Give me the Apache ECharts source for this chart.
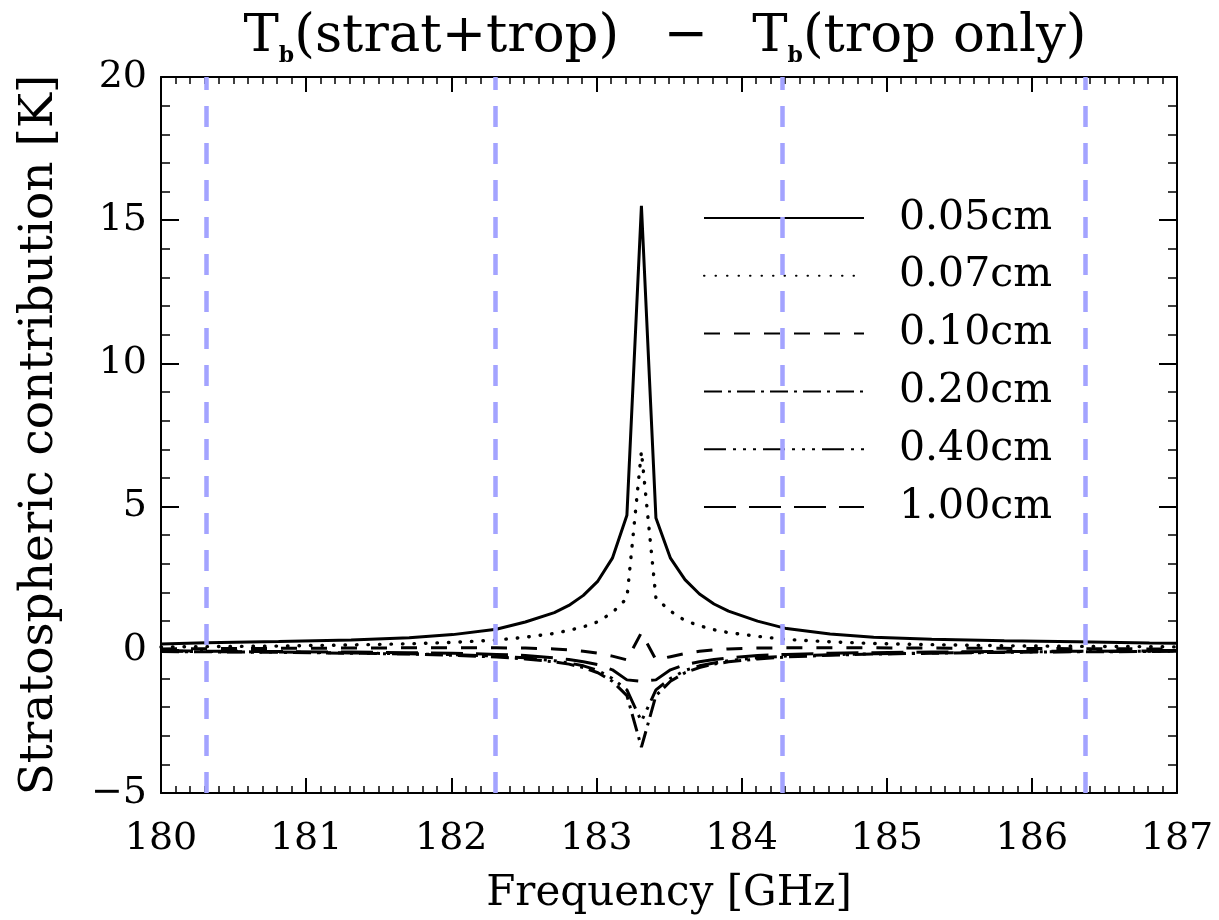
<!DOCTYPE html>
<html>
<head>
<meta charset="utf-8">
<script src="https://cdn.jsdelivr.net/npm/echarts@6/dist/echarts.min.js"></script>
<style>
html,body{margin:0;padding:0;background:#fff;}
#chart{width:1219px;height:920px;}
</style>
</head>
<body>
<div id="chart"></div>
<script>
// Frequencies [GHz]
const freq = [180.00, 180.31, 180.81, 181.31, 181.71, 182.01, 182.31, 182.51, 182.71, 182.81, 182.91, 183.01, 183.11, 183.21, 183.31, 183.41, 183.51, 183.61, 183.71, 183.81, 183.91, 184.11, 184.31, 184.61, 184.91, 185.31, 185.81, 186.31, 186.81, 187.00];
// Stratospheric contribution [K] for each total water column
const s005 = [0.20,0.25,0.29,0.34,0.42,0.53,0.72,0.97,1.30,1.55,1.90,2.40,3.20,4.70,15.50,4.60,3.20,2.45,1.95,1.60,1.35,1.00,0.74,0.55,0.44,0.37,0.32,0.28,0.24,0.23];
const s007 = [0.10,0.11,0.13,0.17,0.21,0.26,0.34,0.44,0.57,0.68,0.80,0.98,1.30,1.80,6.93,1.80,1.35,1.02,0.84,0.70,0.60,0.47,0.36,0.28,0.22,0.18,0.14,0.12,0.11,0.10];
const s010 = [0.03,0.04,0.05,0.06,0.07,0.07,0.07,0.06,0.03,0.00,-0.05,-0.12,-0.22,-0.35,0.60,-0.35,-0.24,-0.13,-0.05,0.00,0.03,0.06,0.07,0.07,0.07,0.06,0.05,0.04,0.03,0.03];
const s020 = [-0.06,-0.07,-0.09,-0.12,-0.15,-0.19,-0.25,-0.32,-0.42,-0.50,-0.62,-0.80,-1.10,-1.60,-3.40,-1.60,-1.10,-0.80,-0.62,-0.50,-0.42,-0.32,-0.25,-0.19,-0.15,-0.12,-0.09,-0.07,-0.06,-0.05];
const s040 = [-0.05,-0.06,-0.08,-0.11,-0.14,-0.17,-0.22,-0.28,-0.38,-0.46,-0.56,-0.72,-1.00,-1.40,-2.50,-1.40,-1.00,-0.72,-0.56,-0.46,-0.38,-0.28,-0.22,-0.17,-0.14,-0.11,-0.08,-0.06,-0.05,-0.05];
const s100 = [-0.03,-0.05,-0.06,-0.08,-0.10,-0.12,-0.16,-0.20,-0.28,-0.34,-0.42,-0.52,-0.70,-1.05,-1.10,-1.05,-0.70,-0.52,-0.42,-0.34,-0.28,-0.20,-0.16,-0.12,-0.10,-0.08,-0.06,-0.05,-0.04,-0.04];
const seriesNames = ['0.05cm','0.07cm','0.10cm','0.20cm','0.40cm','1.00cm'];
const seriesValues = [s005, s007, s010, s020, s040, s100];
// Vertical reference lines (channel edges) [GHz]
const channelEdges = [180.31, 182.30, 184.28, 186.37];
// Tick settings
const xMin = 180, xMax = 187, xStep = 1;
const yMin = -5, yMax = 20, yStep = 5;

const FONT = 'DejaVu Serif';
const lineStyles = [
  {type: 'solid', width: 3},
  {type: [0.5, 11], width: 3.4, cap: 'round'},
  {type: [16, 14], width: 3},
  {type: [18, 6, 3, 6], width: 3},
  {type: [22, 7, 3, 7, 3, 7, 3, 7], width: 3},
  {type: [32, 13], width: 3}
];

const chart = echarts.init(document.getElementById('chart'), null, {renderer: 'canvas'});

function fmtY(v){ return v < 0 ? '\u2212' + Math.abs(v) : String(v); }

const axisCommon = {
  axisLine: {show: true, onZero: false, lineStyle: {color: '#000', width: 2}},
  splitLine: {show: false},
};

const series = [{
  type: 'line', name: 'edges', data: [], silent: true,
  markLine: {
    silent: true, symbol: 'none', animation: false,
    label: {show: false},
    lineStyle: {color: '#a3a3ff', width: 4.5, type: [21, 16]},
    data: channelEdges.map(v => ({xAxis: v}))
  }
}];
seriesNames.forEach((n, i) => {
  series.push({
    type: 'line', name: n, showSymbol: false, symbol: 'none',
    data: freq.map((f, k) => [f, seriesValues[i][k]]),
    lineStyle: Object.assign({color: '#000'}, lineStyles[i]),
    itemStyle: {color: '#000', opacity: 0},
    animation: false, z: 3
  });
});

const option = {
  backgroundColor: '#fff',
  animation: false,
  title: {
    text: 'T{s|b}(strat+trop)  \u2009\u2212\u2009  T{s|b}(trop only)',
    left: 660, top: 2, textAlign: 'center',
    textStyle: {
      fontFamily: FONT, fontSize: 53, fontWeight: 'normal', color: '#000', lineHeight: 60,
      rich: {s: {fontFamily: FONT, fontSize: 22, fontWeight: 'bold', verticalAlign: 'bottom', lineHeight: 36, color: '#000'}}
    }
  },
  legend: {
    data: seriesNames,
    orient: 'vertical', left: 698, top: 191,
    itemWidth: 160, itemHeight: 14, itemGap: 13.8,
    itemStyle: {opacity: 0},
    textStyle: {fontFamily: FONT, fontSize: 41, color: '#000', lineHeight: 44, padding: [0, 0, 0, 30]},
    inactiveColor: '#000'
  },
  grid: {left: 161, right: 42, top: 77, bottom: 124},
  xAxis: [
    Object.assign({}, axisCommon, {
      type: 'value', position: 'bottom', min: xMin, max: xMax, interval: xStep,
      axisTick: {show: true, inside: true, length: 15, lineStyle: {color: '#000', width: 2}},
      minorTick: {show: true, splitNumber: 10, length: 7, lineStyle: {color: '#000', width: 1.5}},
      axisLabel: {show: true, margin: 27, fontFamily: FONT, fontSize: 38, color: '#000'},
      name: 'Frequency [GHz]', nameLocation: 'middle', nameGap: 80,
      nameTextStyle: {fontFamily: FONT, fontSize: 42, color: '#000'}
    }),
    Object.assign({}, axisCommon, {
      type: 'value', position: 'top', min: xMin, max: xMax, interval: xStep,
      axisTick: {show: true, inside: true, length: 15, lineStyle: {color: '#000', width: 2}},
      minorTick: {show: true, splitNumber: 10, length: 7, lineStyle: {color: '#000', width: 1.5}},
      axisLabel: {show: false}
    })
  ],
  yAxis: [
    Object.assign({}, axisCommon, {
      type: 'value', position: 'left', min: yMin, max: yMax, interval: yStep,
      axisTick: {show: true, inside: true, length: 18, lineStyle: {color: '#000', width: 2}},
      minorTick: {show: true, splitNumber: 5, length: 9, lineStyle: {color: '#000', width: 1.5}},
      axisLabel: {show: true, margin: 14, fontFamily: FONT, fontSize: 38, color: '#000', formatter: fmtY},
      name: 'Stratospheric contribution [K]', nameLocation: 'middle', nameGap: 98, nameRotate: 90,
      nameTextStyle: {fontFamily: FONT, fontSize: 47, color: '#000'}
    }),
    Object.assign({}, axisCommon, {
      type: 'value', position: 'right', min: yMin, max: yMax, interval: yStep,
      axisTick: {show: true, inside: true, length: 18, lineStyle: {color: '#000', width: 2}},
      minorTick: {show: true, splitNumber: 5, length: 9, lineStyle: {color: '#000', width: 1.5}},
      axisLabel: {show: false}
    })
  ],
  series: series
};
chart.setOption(option);
</script>
</body>
</html>
